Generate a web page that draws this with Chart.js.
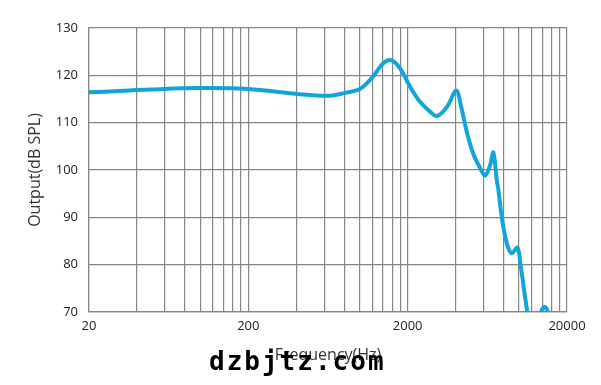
<!DOCTYPE html>
<html>
<head>
<meta charset="utf-8">
<script src="https://cdn.jsdelivr.net/npm/chart.js@4"></script>
<style>
  body { margin: 0; background: #fff; }
  #wrap { width: 601px; height: 385px; }
</style>
</head>
<body>
<div id="wrap"><canvas id="myChart"></canvas></div>
<script>
// frequency response
var freqs = [20, 31, 48, 100, 200, 420, 650, 810, 1000, 1210, 1400, 1570, 1790, 2070, 2390, 2770, 3060, 3540, 4030, 4330, 4720, 5150, 5700, 6120, 6580, 6900, 7250, 7420, 7790, 8380, 9000, 9770, 10260, 10760, 11280, 11730, 12500, 13760, 14430, 15140, 16100, 18000]
var output = [116.4, 116.7, 117.0, 117.3, 117.1, 116.0, 115.7, 116.3, 117.1, 119.7, 122.5, 123.2, 121.5, 117.6, 114.4, 112.3, 111.4, 113.4, 116.8, 113.4, 107.8, 103.5, 100.4, 98.8, 101.0, 103.7, 97.9, 95.8, 90.1, 84.5, 82.4, 83.6, 79.6, 74.6, 69.8, 65.5, 62.0, 70.0, 71.1, 70.0, 65.0, 60.0]

var xGrid = [20, 40, 60, 80, 100, 120, 140, 160, 180, 200, 400, 600, 800, 1000, 1200, 1400, 1600, 1800, 2000, 4000, 6000, 8000, 10000, 12000, 14000, 16000, 18000, 20000]
var xLabels = [20, 200, 2000, 20000]

var watermark = {
  id: 'watermark',
  afterDraw: function (chart) {
    var c = chart.ctx
    c.save()
    c.font = 'bold 26px "DejaVu Sans Mono"'
    c.letterSpacing = '2px'
    c.fillStyle = '#000'
    c.textAlign = 'left'
    c.textBaseline = 'alphabetic'
    c.fillText('dzbjtz.com', 209, 370)
    c.restore()
  }
}

var ctx = document.getElementById('myChart')
var myChart = new Chart(ctx, {
  type: 'line',
  data: {
    datasets: [{
      data: freqs.map(function (f, i) { return { x: f, y: output[i] } }),
      borderColor: '#12a5dd',
      borderWidth: 4,
      pointRadius: 0,
      tension: 0.35,
      fill: false
    }]
  },
  options: {
    responsive: true,
    maintainAspectRatio: false,
    animation: false,
    layout: { padding: { top: 28, right: 34, left: 0, bottom: 0 } },
    plugins: { legend: { display: false }, tooltip: { enabled: false } },
    scales: {
      x: {
        type: 'logarithmic',
        min: 20,
        max: 20000,
        afterBuildTicks: function (scale) {
          scale.ticks = xGrid.map(function (v) { return { value: v } })
        },
        afterFit: function (scale) { scale.height = 73 },
        ticks: {
          autoSkip: false,
          maxRotation: 0,
          padding: 6,
          color: '#222',
          font: { family: '"Open Sans"', size: 13 },
          callback: function (v) { return xLabels.indexOf(v) >= 0 ? String(v) : '' }
        },
        grid: { color: '#858585', lineWidth: 1.2, drawTicks: false },
        border: { color: '#858585', width: 1.2 },
        title: {
          display: true,
          text: 'Frequency(Hz)',
          color: '#333',
          font: { family: '"Open Sans"', size: 16 },
          padding: { top: 0, bottom: 20 }
        }
      },
      y: {
        min: 70,
        max: 130,
        afterFit: function (scale) { scale.width = 89 },
        ticks: {
          stepSize: 10,
          padding: 11,
          color: '#222',
          font: { family: '"Open Sans"', size: 13 }
        },
        grid: { color: '#858585', lineWidth: 1.2, drawTicks: false },
        border: { color: '#858585', width: 1.2 },
        title: {
          display: true,
          text: 'Output(dB SPL)',
          color: '#333',
          font: { family: '"Open Sans"', size: 16 },
          padding: { bottom: 0, top: 26 }
        }
      }
    }
  },
  plugins: [watermark]
})
</script>
</body>
</html>
